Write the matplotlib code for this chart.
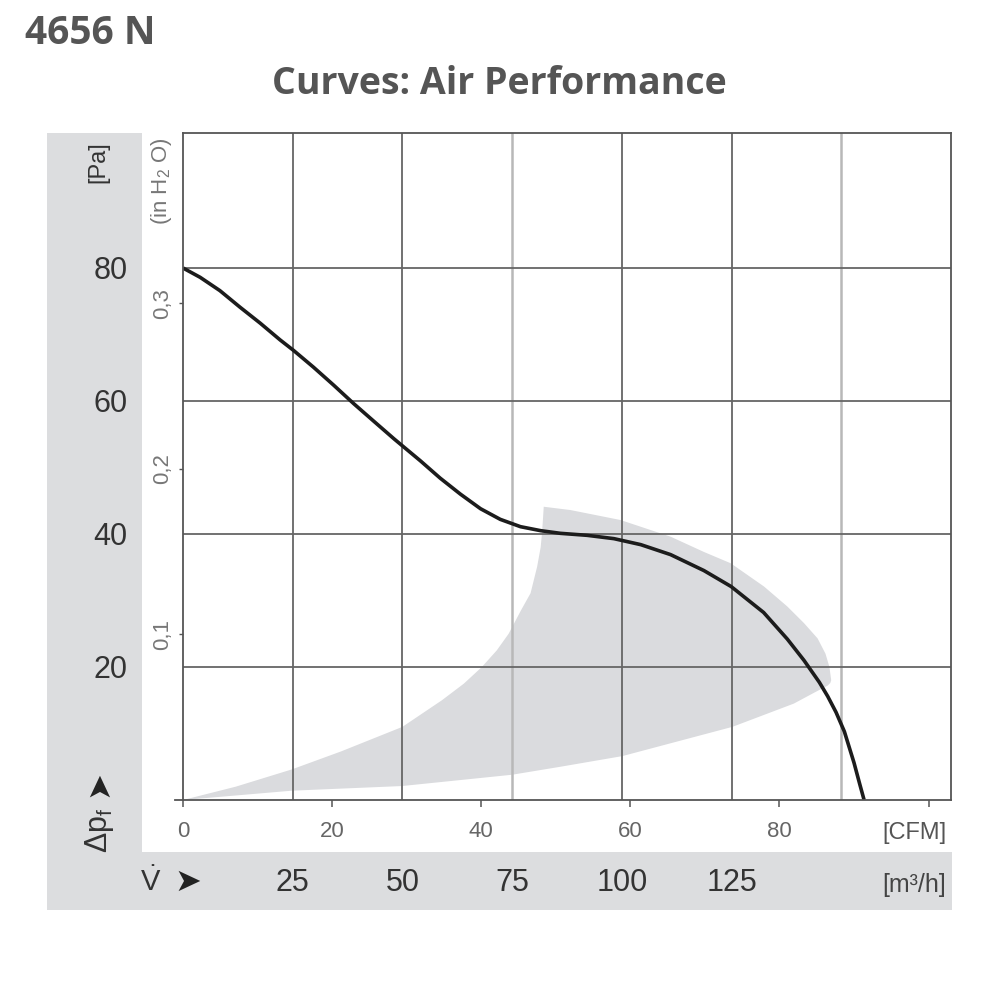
import numpy as np
import matplotlib
matplotlib.use("Agg")
import matplotlib.pyplot as plt
from matplotlib.patches import Rectangle, Polygon
from matplotlib import transforms

plt.rcParams['font.family'] = ['Liberation Sans', 'DejaVu Sans']
plt.rcParams['mathtext.fontset'] = 'custom'
plt.rcParams['mathtext.rm'] = 'Liberation Sans'
plt.rcParams['mathtext.it'] = 'Liberation Sans'

# fan curve, flow in m3/h, static pressure in Pa
flow_m3h = [0, 3.9, 8.4, 13.0, 17.6, 22.1, 25.2, 29.7, 34.3, 38.9, 43.4, 48.1,
            54.1, 58.6, 63.2, 67.8, 72.3, 76.9, 81.5, 86.0, 92.1, 98.2, 104.3,
            111.1, 118.7, 124.9, 132.3, 137.7, 141.5, 145.0, 146.9, 148.8,
            150.7, 152.9, 154.2, 155.2]
pressure_pa = [80, 78.6, 76.6, 74.1, 71.7, 69.2, 67.6, 65.1, 62.4, 59.6, 57.0,
               54.3, 51.0, 48.4, 46.0, 43.8, 42.2, 41.1, 40.5, 40.1, 39.8,
               39.3, 38.4, 36.9, 34.5, 32.1, 28.2, 24.2, 21.0, 17.7, 15.6,
               13.2, 10.3, 5.6, 2.4, 0]

# recommended operating area (grey), outline going clockwise from origin
area_m3h = [0, 12, 24.8, 36, 50, 59, 64, 68.1, 71.5, 74.2, 77, 79.2, 80.7,
            81.5, 81.8, 82, 82.2,
            88.3, 99.7, 111.1, 118.7, 124.8, 132.4, 137.7, 141.5, 144.6,
            146.4, 147.3, 147.7, 147.5, 146.9,
            144, 139.2, 125.2, 100.1, 86, 75, 49.9, 24.8, 0]
area_pa = [0, 2.0, 4.6, 7.3, 11, 15, 17.5, 20, 22.5, 25, 28.5, 31.1, 35.1,
           38, 40.1, 42, 44.1,
           43.6, 42.1, 39.6, 37.3, 35.6, 32.1, 29.1, 26.6, 24.3,
           22.0, 20.0, 18.0, 17.6, 17.2,
           16.2, 14.5, 11.0, 6.6, 5.0, 3.8, 2.1, 1.4, 0]

grid_m3h = [25, 50, 75, 100, 125, 150]
light_grid_m3h = [75, 150]
grid_pa = [20, 40, 60, 80]
cfm_ticks = [0, 20, 40, 60, 80, 100]
cfm_labels = ['0', '20', '40', '60', '80', '']
m3h_labels = [25, 50, 75, 100, 125]
inh2o_ticks = [0.1, 0.2, 0.3]
inh2o_labels = ['0,1', '0,2', '0,3']

M3H_PER_CFM = 1.699
PA_PER_INH2O = 249.0

fig = plt.figure(figsize=(10, 10), dpi=100)

panel_grey = '#dcdddf'
fig.add_artist(Rectangle((0.047, 0.090), 0.905, 0.777, transform=fig.transFigure,
                         facecolor=panel_grey, edgecolor='none', zorder=-10))
fig.add_artist(Rectangle((0.142, 0.148), 0.810, 0.719, transform=fig.transFigure,
                         facecolor='white', edgecolor='none', zorder=-9))

ax = fig.add_axes([0.183, 0.2, 0.768, 0.667])
ax.set_xlim(0, 175)
ax.set_ylim(0, 100.3)
ax.set_facecolor('white')

ax.add_patch(Polygon(np.column_stack([area_m3h, area_pa]), closed=True,
                     facecolor='#dadbde', edgecolor='none', zorder=1))

for g in grid_m3h:
    if g in light_grid_m3h:
        ax.axvline(g, color='#b8b8b8', lw=1.8, zorder=2)
    else:
        ax.axvline(g, color='#666666', lw=1.3, zorder=2)
for g in grid_pa:
    ax.axhline(g, color='#666666', lw=1.3, zorder=2)

ax.plot(flow_m3h, pressure_pa, color='#1c1c1c', lw=2.6, zorder=5,
        solid_capstyle='butt', solid_joinstyle='round')

for s in ax.spines.values():
    s.set_color('#555555')
    s.set_linewidth(1.3)
    s.set_zorder(6)
ax.spines['bottom'].set_bounds(-1.8, 175)

# bottom axis: CFM ticks
ax.set_xticks([c * M3H_PER_CFM for c in cfm_ticks])
ax.set_xticklabels(cfm_labels)
ax.tick_params(axis='x', direction='out', length=5, width=1.1, color='#555555',
               pad=10, labelsize=16, labelcolor='#666666')

# left axis: Pa labels out in the grey band
ax.set_yticks(grid_pa)
ax.set_yticklabels([str(v) for v in grid_pa])
ax.tick_params(axis='y', length=0, pad=40, labelsize=22, labelcolor='#333333')

sec = ax.secondary_yaxis('left', functions=(lambda p: p / PA_PER_INH2O,
                                            lambda h: h * PA_PER_INH2O))
sec.set_yticks(inh2o_ticks)
sec.set_yticklabels(inh2o_labels)
sec.tick_params(direction='out', length=3, width=1.0, color='#555555', pad=4,
                labelsize=16, labelcolor='#777777', labelrotation=90)
for lab in sec.get_yticklabels():
    lab.set_va('center')
sec.spines['left'].set_visible(False)

trans = transforms.blended_transform_factory(ax.transData, ax.transAxes)
for v in m3h_labels:
    ax.text(v, -0.124, str(v), transform=trans, ha='center', va='center',
            fontsize=22, color='#333333')

ax.text(0.9935, -0.0495, '[CFM]', transform=ax.transAxes, ha='right',
        va='center', fontsize=17, color='#555555')
ax.text(0.9935, -0.127, '[m³/h]', transform=ax.transAxes, ha='right',
        va='center', fontsize=18, color='#444444')

# axis captions in the grey band
fig.text(0.098, 0.838, '[Pa]', rotation=90, ha='center', va='center',
         fontsize=17, color='#333333')
fig.text(0.161, 0.819, '(in H$_2$ O)', rotation=90, ha='center', va='center',
         fontsize=16, color='#777777')
fig.text(0.099, 0.170, r'$\Delta p_\mathrm{f}$', rotation=90, ha='center',
         va='center', fontsize=22, color='#333333')
fig.text(0.099, 0.216, '➤', rotation=90, ha='center', va='center',
         fontsize=23, color='#222222', family='DejaVu Sans')
fig.text(0.151, 0.118, r'$\dot{V}$', ha='center', va='center',
         fontsize=21, color='#333333')
fig.text(0.188, 0.118, '➤', ha='center', va='center',
         fontsize=23, color='#222222', family='DejaVu Sans')

# headings
fig.text(0.025, 0.966, '4656 N', ha='left', va='center', fontsize=28,
         fontweight='bold', color='#555555', family=['Open Sans', 'DejaVu Sans'])
fig.text(0.499, 0.916, 'Curves: Air Performance', ha='center', va='center',
         fontsize=27, fontweight='bold', color='#555555',
         family=['Open Sans', 'DejaVu Sans'])

fig.savefig('out.png', dpi=100)
